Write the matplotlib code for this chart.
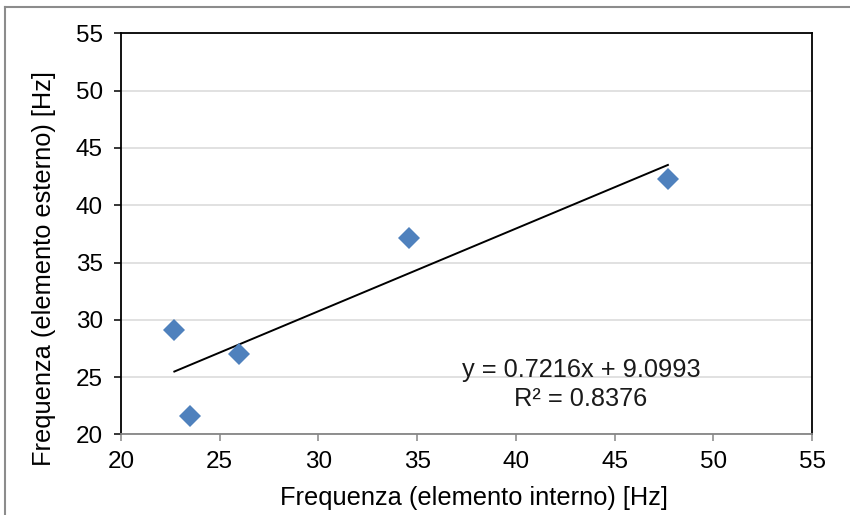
import numpy as np
import matplotlib
matplotlib.use("Agg")
import matplotlib.pyplot as plt
from matplotlib.lines import Line2D

plt.rcParams['font.family'] = ['Liberation Sans', 'DejaVu Sans']

# frequenze misurate [Hz]
f_interno = [22.7, 23.5, 26.0, 34.6, 47.7]
f_esterno = [29.1, 21.6, 27.0, 37.1, 42.3]

# retta di regressione lineare
slope = 0.7216
intercept = 9.0993
r2 = 0.8376

ticks = [20, 25, 30, 35, 40, 45, 50, 55]

fig = plt.figure(figsize=(8.5, 5.15), dpi=100)
ax = fig.add_axes([0.1424, 0.1567, 0.8129, 0.7783])

ax.set_xlim(20, 55)
ax.set_ylim(20, 55)
ax.set_xticks(ticks)
ax.set_yticks(ticks)

ax.yaxis.grid(True, color='#d9d9d9', linewidth=1.1)
ax.set_axisbelow(True)

xfit = np.array([min(f_interno), max(f_interno)])
ax.plot(xfit, slope * xfit + intercept, color='black', linewidth=1.4, zorder=3)

ax.plot(f_interno, f_esterno, linestyle='none', marker='D', markersize=11.5,
        color='#4f81bd', markeredgewidth=0, zorder=4)

ax.text(43.3, 25.6, 'y = %.4fx + %.4f' % (slope, intercept), fontsize=18.3,
        color='#1a1a1a', ha='center', va='center')
ax.text(43.3, 23.1, 'R² = %.4f' % r2, fontsize=18.3, color='#1a1a1a',
        ha='center', va='center')

for side in ['left', 'top', 'right']:
    ax.spines[side].set_color('black')
    ax.spines[side].set_linewidth(1.3)
ax.spines['bottom'].set_color('#868686')
ax.spines['bottom'].set_linewidth(1.3)

ax.tick_params(axis='y', direction='out', length=5, width=1.1, color='black',
               labelsize=17.5, pad=8)
ax.tick_params(axis='x', direction='out', length=5, width=1.1, color='#868686',
               labelsize=17.5, pad=7, labelcolor='black')

ax.set_xlabel('Frequenza (elemento interno) [Hz]', fontsize=18.3)
ax.set_ylabel('Frequenza (elemento esterno) [Hz]', fontsize=18.3)
ax.xaxis.set_label_coords(0.511, -0.129)
ax.yaxis.set_label_coords(-0.094, 0.414)

# cornice esterna del grafico
ytop = 1 - 7 / 515
xleft = 5 / 850
fig.add_artist(Line2D([xleft, 1], [ytop, ytop], color='#8c8c8c', linewidth=1.5,
                      transform=fig.transFigure))
fig.add_artist(Line2D([xleft, xleft], [0, ytop], color='#8c8c8c', linewidth=1.5,
                      transform=fig.transFigure))

fig.savefig('out.png', dpi=100)
